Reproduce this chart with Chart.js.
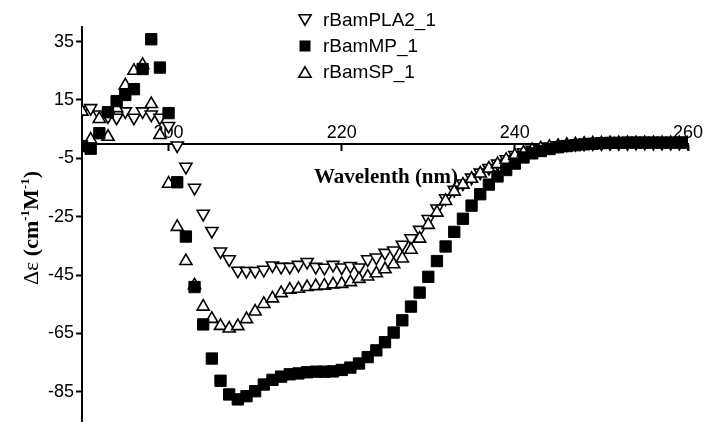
<!DOCTYPE html>
<html>
<head>
<meta charset="utf-8">
<script src="https://cdn.jsdelivr.net/npm/chart.js@4/dist/chart.umd.min.js"></script>
<style>
html,body{margin:0;padding:0;background:#fff;}
canvas{display:block;}
</style>
</head>
<body>
<canvas id="c" width="705" height="430"></canvas>
<script>
// ---- data ----
const wavelengths = [190,191,192,193,194,195,196,197,198,199,
  200,201,202,203,204,205,206,207,208,209,
  210,211,212,213,214,215,216,217,218,219,
  220,221,222,223,224,225,226,227,228,229,
  230,231,232,233,234,235,236,237,238,239,
  240,241,242,243,244,245,246,247,248,249,
  250,251,252,253,254,255,256,257,258,259,260];

const rBamPLA2 = [11.5,12.2,10.0,9.4,8.9,11.1,8.9,11.1,10.0,8.9,
  6.1,-0.6,-7.9,-15.1,-24.0,-29.9,-36.9,-39.6,-43.5,-43.6,
  -43.6,-43.2,-41.7,-42.2,-42.2,-41.5,-40.5,-42.2,-42.5,-41.5,
  -42.4,-41.9,-42.4,-39.6,-39.0,-37.4,-36.6,-34.6,-32.4,-29.5,
  -25.8,-22.2,-18.7,-15.8,-13.6,-11.6,-9.9,-8.3,-6.8,-5.3,
  -3.9,-2.9,-2.1,-1.5,-1.0,-0.6,-0.3,-0.1,0.0,0.1,
  0.1,0.2,0.2,0.2,0.3,0.3,0.3,0.3,0.3,0.3,0.3];

const rBamMP = [-0.8,-1.7,3.6,10.8,14.6,16.7,18.7,25.6,35.8,26.1,
  10.5,-13.2,-31.8,-49.1,-61.9,-73.6,-81.2,-85.9,-87.6,-86.5,
  -84.8,-82.5,-80.9,-79.8,-79.0,-78.7,-78.3,-78.1,-78.1,-78.0,
  -77.5,-76.7,-75.3,-73.1,-70.8,-68.0,-64.7,-60.5,-55.8,-51.0,
  -45.6,-40.2,-35.2,-30.2,-25.7,-21.2,-17.3,-14.0,-11.2,-9.0,
  -6.8,-4.7,-3.3,-2.5,-1.8,-1.2,-0.8,-0.5,-0.2,0.0,
  0.2,0.3,0.3,0.4,0.4,0.4,0.4,0.4,0.4,0.4,0.4];

const rBamSP = [11.0,1.4,8.5,2.4,12.2,20.0,25.0,27.0,13.6,3.0,
  -13.7,-28.5,-40.2,-48.5,-55.8,-60.0,-62.4,-63.3,-62.5,-60.1,
  -57.5,-54.9,-53.0,-51.2,-50.0,-49.7,-49.1,-48.8,-48.6,-48.2,
  -48.0,-47.4,-46.3,-45.5,-44.4,-43.0,-41.3,-39.3,-36.3,-32.5,
  -27.8,-23.6,-19.6,-16.4,-14.0,-12.0,-10.2,-8.5,-7.0,-5.5,
  -4.1,-3.0,-2.2,-1.6,-1.1,-0.7,-0.4,-0.2,0.0,0.1,
  0.1,0.2,0.2,0.2,0.2,0.2,0.2,0.2,0.2,0.2,0.2];

const seriesNames = ['rBamPLA2_1', 'rBamMP_1', 'rBamSP_1'];
const xTicks = [200, 220, 240, 260];
const yTicks = [-85, -65, -45, -25, -5, 15, 35];
const xTitle = 'Wavelenth (nm)';

// ---- chart ----
const toPts = vals => wavelengths.map((w, i) => ({x: w, y: vals[i]}));
const TICK_FONT = {family: '"Liberation Sans", Arial, sans-serif', size: 18};

const annotations = {
  id: 'annotations',
  afterDraw(chart) {
    const ctx = chart.ctx;
    ctx.save();
    ctx.fillStyle = '#000';
    ctx.strokeStyle = '#000';

    // x-axis title
    ctx.font = 'bold 21px "Liberation Serif", serif';
    ctx.textAlign = 'center';
    ctx.textBaseline = 'middle';
    ctx.fillText(xTitle, 386, 178);

    // y-axis title (rotated, with superscripts)
    const segs = [
      {t: '\u0394\u03b5 ', f: '22px "Liberation Serif", serif', dy: 0},
      {t: '(cm', f: 'bold 22px "Liberation Serif", serif', dy: 0},
      {t: '-1', f: 'bold 13px "Liberation Serif", serif', dy: -9},
      {t: 'M', f: 'bold 22px "Liberation Serif", serif', dy: 0},
      {t: '-1', f: 'bold 13px "Liberation Serif", serif', dy: -9},
      {t: ')', f: 'bold 22px "Liberation Serif", serif', dy: 0}
    ];
    let total = 0;
    segs.forEach(s => { ctx.font = s.f; s.w = ctx.measureText(s.t).width; total += s.w; });
    ctx.translate(38, 228);
    ctx.rotate(-Math.PI / 2);
    ctx.textAlign = 'left';
    ctx.textBaseline = 'alphabetic';
    let px = -total / 2;
    segs.forEach(s => { ctx.font = s.f; ctx.fillText(s.t, px, s.dy); px += s.w; });
    ctx.setTransform(1, 0, 0, 1, 0, 0);

    // legend
    const lx = 305, rows = [20, 46, 72];
    ctx.lineWidth = 1.6;
    // down triangle
    let r = 7, y = rows[0];
    ctx.beginPath();
    ctx.moveTo(lx, y + r * 0.75);
    ctx.lineTo(lx - r * 0.87, y - r * 0.75);
    ctx.lineTo(lx + r * 0.87, y - r * 0.75);
    ctx.closePath();
    ctx.fillStyle = '#fff'; ctx.fill(); ctx.stroke();
    // square
    ctx.fillStyle = '#000';
    ctx.fillRect(lx - 5.5, rows[1] - 5.5, 11, 11);
    // up triangle
    y = rows[2];
    ctx.beginPath();
    ctx.moveTo(lx, y - r * 0.75);
    ctx.lineTo(lx - r * 0.87, y + r * 0.75);
    ctx.lineTo(lx + r * 0.87, y + r * 0.75);
    ctx.closePath();
    ctx.fillStyle = '#fff'; ctx.fill(); ctx.stroke();

    ctx.fillStyle = '#000';
    ctx.font = '19px "Liberation Sans", Arial, sans-serif';
    ctx.textAlign = 'left';
    ctx.textBaseline = 'middle';
    seriesNames.forEach((n, i) => ctx.fillText(n, 323, rows[i] + 1));
    ctx.restore();
  }
};

new Chart(document.getElementById('c'), {
  type: 'scatter',
  data: {
    datasets: [
      {label: seriesNames[0], data: toPts(rBamPLA2), pointStyle: 'triangle', pointRotation: 180,
       pointRadius: 7, pointBackgroundColor: '#fff', pointBorderColor: '#000', pointBorderWidth: 1.6, order: 2},
      {label: seriesNames[1], data: toPts(rBamMP), pointStyle: 'rect',
       pointRadius: 8, pointBackgroundColor: '#000', pointBorderColor: '#000', pointBorderWidth: 1, order: 0},
      {label: seriesNames[2], data: toPts(rBamSP), pointStyle: 'triangle', pointRotation: 0,
       pointRadius: 7, pointBackgroundColor: '#fff', pointBorderColor: '#000', pointBorderWidth: 1.6, order: 1}
    ]
  },
  options: {
    responsive: false,
    devicePixelRatio: 1,
    animation: false,
    events: [],
    layout: {padding: {left: 0, top: 27, right: 17, bottom: 0}},
    plugins: {legend: {display: false}, tooltip: {enabled: false}, title: {display: false}},
    scales: {
      x: {
        type: 'linear', min: 190, max: 260, position: {y: 0},
        border: {display: true, color: '#000', width: 2},
        grid: {drawOnChartArea: false, drawTicks: true, tickLength: 6, color: '#000', tickWidth: 2},
        ticks: {color: '#000', font: TICK_FONT, padding: -28, autoSkip: false, maxRotation: 0,
                callback: v => String(v)},
        afterBuildTicks: s => { s.ticks = xTicks.map(v => ({value: v})); },
        afterFit: s => { s.paddingLeft = 0; s.paddingRight = 0; }
      },
      y: {
        type: 'linear', min: -95, max: 40, position: 'left',
        border: {display: true, color: '#000', width: 2},
        grid: {drawOnChartArea: false, drawTicks: true, tickLength: 6, color: '#000', tickWidth: 2},
        ticks: {color: '#000', font: TICK_FONT, padding: 2, autoSkip: false, callback: v => String(v)},
        afterBuildTicks: s => { s.ticks = yTicks.map(v => ({value: v})); },
        afterFit: s => { s.width = 82; s.paddingTop = 0; s.paddingBottom = 0; }
      }
    }
  },
  plugins: [annotations]
});
</script>
</body>
</html>
